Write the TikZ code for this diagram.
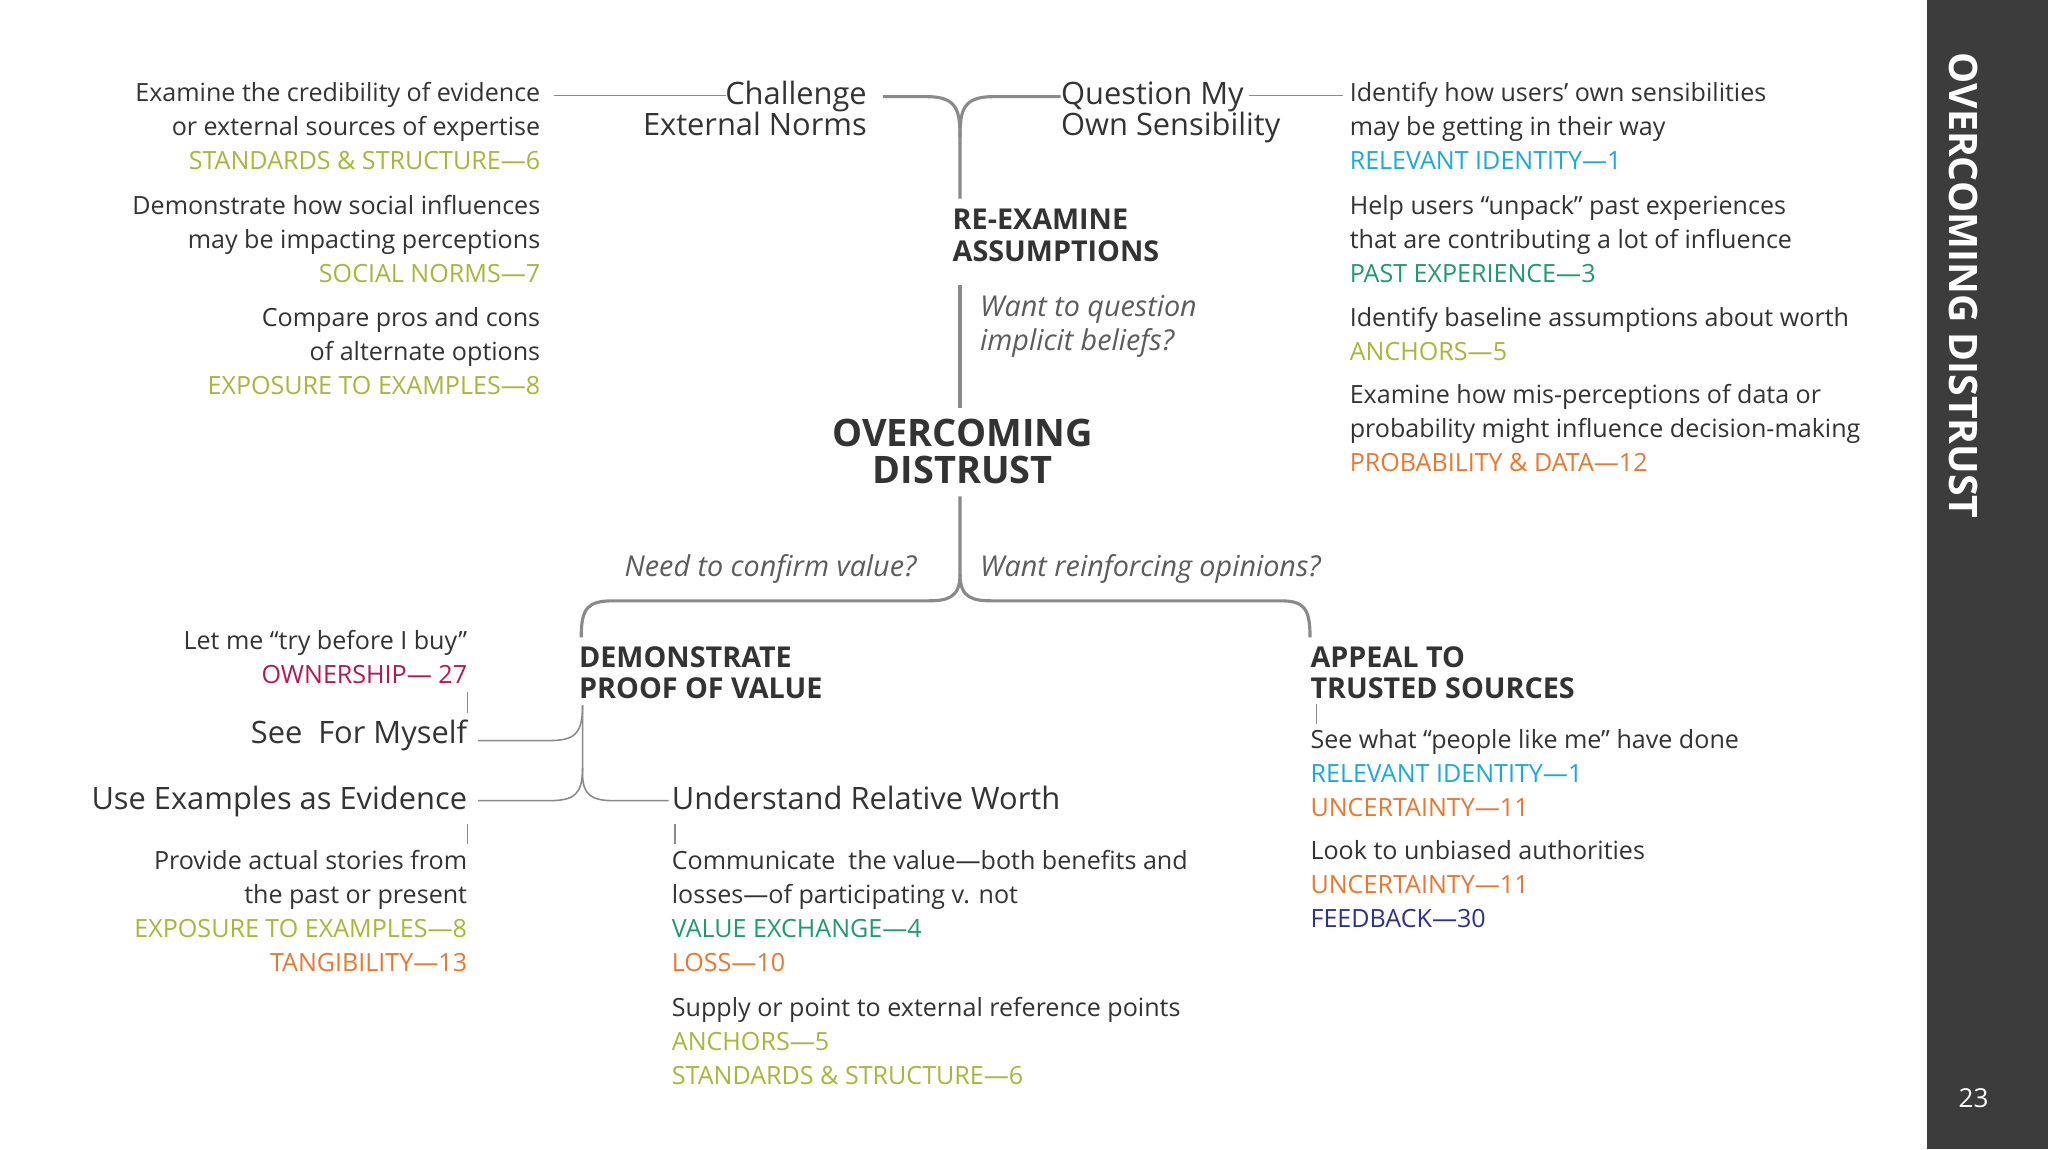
\documentclass[tikz,border=0pt]{standalone}
\usepackage{fontspec}
\setmainfont{Open Sans}
\definecolor{txt}{HTML}{333333}
\definecolor{ln}{HTML}{8A8A8A}
\definecolor{olv}{HTML}{A9B63A}
\definecolor{cyn}{HTML}{1BA8DE}
\definecolor{tel}{HTML}{1E9970}
\definecolor{org}{HTML}{E8782E}
\definecolor{mag}{HTML}{B0185C}
\definecolor{nav}{HTML}{2E3192}
\definecolor{bar}{HTML}{3C3C3C}
\begin{document}
\begin{tikzpicture}[x={(0.5pt,0)},y={(0,-0.5pt)},
 body/.style={font=\fontsize{9.6}{13}\selectfont,text=txt,inner sep=0pt},
 bl/.style={body,align=left,anchor=base west},
 br/.style={body,align=right,anchor=base east},
 head/.style={font=\fontsize{11.8}{12}\selectfont,text=txt,inner sep=0pt},
 caps/.style={font=\fontsize{11}{12}\selectfont\bfseries,text=txt,inner sep=0pt,align=left,anchor=base west},
 ital/.style={font=\fontsize{11}{13}\selectfont\itshape,text=txt!80,inner sep=0pt},
 thin/.style={ln,line width=0.6pt},
 trunk/.style={ln,line width=1.2pt}]
\useasboundingbox (0,0) rectangle (1568,880);
\fill[white] (0,0) rectangle (1475,880);
\fill[bar] (1475,0) rectangle (1568,880);
\node[rotate=-90,anchor=west,font=\fontsize{15}{15}\selectfont\bfseries,text=white,inner sep=0pt] (side) at (1503,40) {OVERCOMING DISTRUST};
\node[font=\fontsize{10}{10}\selectfont,text=white] (pg) at (1511,841) {23};

% left column top (coordinates are last-line baselines)
\node[br] (l1) at (414,130) {Examine the credibility of evidence\\or external sources of expertise\\\textcolor{olv}{STANDARDS \& STRUCTURE—6}};
\node[br] (l2) at (414,216) {Demonstrate how social influences\\may be impacting perceptions\\\textcolor{olv}{SOCIAL NORMS—7}};
\node[br] (l3) at (414,302) {Compare pros and cons\\of alternate options\\\textcolor{olv}{EXPOSURE TO EXAMPLES—8}};
% right column top
\node[bl] (r1) at (1033,130) {Identify how users’ own sensibilities\\may be getting in their way\\\textcolor{cyn}{RELEVANT IDENTITY—1}};
\node[bl] (r2) at (1033,216) {Help users “unpack” past experiences\\that are contributing a lot of influence\\\textcolor{tel}{PAST EXPERIENCE—3}};
\node[bl] (r3) at (1033,276) {Identify baseline assumptions about worth\\\textcolor{olv}{ANCHORS—5}};
\node[bl] (r4) at (1033,361) {Examine how mis-perceptions of data or\\probability might influence decision-making\\\textcolor{org}{PROBABILITY \& DATA—12}};

% headings
\node[head,align=right,anchor=base east] (cen) at (664,104) {Challenge\\External Norms};
\node[head,align=left,anchor=base west] (qms) at (812,104) {Question My\\Own Sensibility};
\node[caps] (rea) at (729,200) {RE-EXAMINE\\ASSUMPTIONS};
\node[ital,align=left,anchor=base west] (wq) at (750,268) {Want to question\\implicit beliefs?};
\node[font=\fontsize{14.5}{14}\selectfont\bfseries,text=txt,inner sep=0pt,align=center,anchor=base] (od) at (737,370) {OVERCOMING\\DISTRUST};
\node[ital,anchor=base east] (ncv) at (702,441) {Need to confirm value?};
\node[ital,anchor=base west] (wro) at (750,441) {Want reinforcing opinions?};
\node[caps] (dpv) at (443,535) {DEMONSTRATE\\PROOF OF VALUE};
\node[caps] (ats) at (1003,535) {APPEAL TO\\TRUSTED SOURCES};

% lower left
\node[br] (try) at (358,523) {Let me “try before I buy”\\\textcolor{mag}{OWNERSHIP— 27}};
\node[head,anchor=base east] (sfm) at (358,569) {See~ For Myself};
\node[head,anchor=base east] (uee) at (358,620) {Use Examples as Evidence};
\node[br] (pas) at (358,744) {Provide actual stories from\\the past or present\\\textcolor{olv}{EXPOSURE TO EXAMPLES—8}\\\textcolor{org}{TANGIBILITY—13}};
\node[head,anchor=base west] (urw) at (514,620) {Understand Relative Worth};
\node[bl] (cv) at (514,744) {Communicate~ the value—both benefits and\\losses—of participating v. not\\\textcolor{tel}{VALUE EXCHANGE—4}\\\textcolor{org}{LOSS—10}};
\node[bl] (sp) at (514,830) {Supply or point to external reference points\\\textcolor{olv}{ANCHORS—5}\\\textcolor{olv}{STANDARDS \& STRUCTURE—6}};
% lower right
\node[bl] (swp) at (1003,625) {See what “people like me” have done\\\textcolor{cyn}{RELEVANT IDENTITY—1}\\\textcolor{org}{UNCERTAINTY—11}};
\node[bl] (lua) at (1003,710) {Look to unbiased authorities\\\textcolor{org}{UNCERTAINTY—11}\\\textcolor{nav}{FEEDBACK—30}};

% connectors
\draw[thin] (424,73) -- (556,73);
\draw[thin] (956,73) -- (1028,73);
\draw[trunk] (676,74) -- (710,74) .. controls (733,74) and (735,85) .. (735,105);
\draw[trunk] (812,74) -- (760,74) .. controls (737,74) and (735,85) .. (735,105) -- (735,152);
\draw[trunk] (735,218) -- (735,312);
\draw[trunk] (735,380) -- (735,440) .. controls (735,458) and (725,460) .. (710,460) -- (470,460) .. controls (450,460) and (445,465) .. (445,488);
\draw[trunk] (735,440) .. controls (735,458) and (745,460) .. (760,460) -- (980,460) .. controls (998,460) and (1003,465) .. (1003,488);
\draw[thin] (446,540) -- (446,592) .. controls (446,608) and (452,613) .. (470,613) -- (512,613);
\draw[thin] (446,540) .. controls (446,562) and (440,567) .. (420,567) -- (366,567);
\draw[thin] (446,588) .. controls (446,608) and (440,613) .. (420,613) -- (366,613);
\draw[thin] (358,530) -- (358,546);
\draw[thin] (358,631) -- (358,646);
\draw[thin] (517,631) -- (517,646);
\draw[thin] (1008,539) -- (1008,554);
\end{tikzpicture}
\end{document}
